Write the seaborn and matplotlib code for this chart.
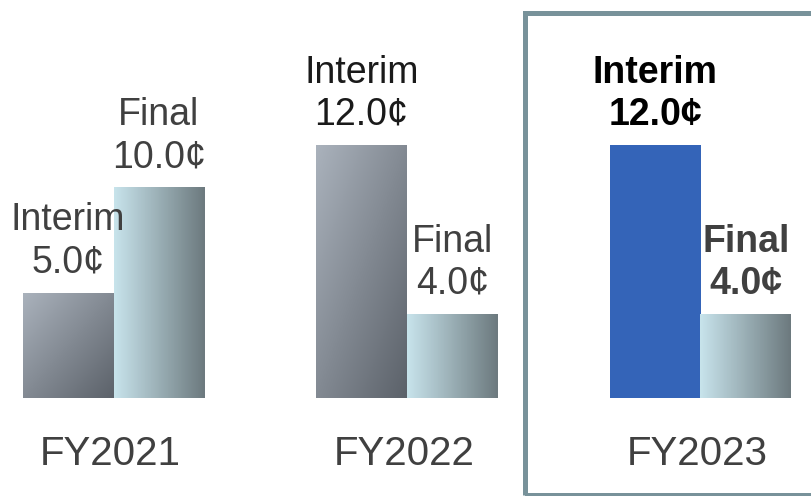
import pandas as pd
import numpy as np
import seaborn as sns
import matplotlib.pyplot as plt
from matplotlib.colors import LinearSegmentedColormap
from matplotlib.patches import Rectangle

# datos
years = ['FY2021', 'FY2022', 'FY2023']
interim = [5.0, 12.0, 12.0]
final = [10.0, 4.0, 4.0]
series = ['Interim', 'Final']

df = pd.DataFrame({
    'year': years * 2,
    'tipo': ['Interim'] * 3 + ['Final'] * 3,
    'valor': interim + final,
})

sns.set_theme(style='white')
plt.rcParams['font.family'] = ['Liberation Sans', 'DejaVu Sans']

fig = plt.figure(figsize=(8.11, 4.96), dpi=100)
ax = fig.add_axes([0, 0, 1, 1])

sns.barplot(data=df, x='year', y='valor', hue='tipo', hue_order=series,
            order=years, width=0.62, palette=['#3464b8', '#9fb9c0'],
            saturation=1, linewidth=0, legend=False, ax=ax)

# escala: 293.5 px por grupo, 21.1 px por unidad
ax.set_xlim(-113.5 / 293.5, (811 - 113.5) / 293.5)
ax.set_ylim(-98 / 21.1, 398 / 21.1)
ax.axis('off')

cmap_int = LinearSegmentedColormap.from_list('int', ['#aab2bc', '#5c626a'])
cmap_fin = LinearSegmentedColormap.from_list('fin', ['#c7e3eb', '#6d7a7f'])

xx, yy = np.meshgrid(np.linspace(0, 1, 64), np.linspace(0, 1, 64))

for k, cont in enumerate(ax.containers):
    for i, bar in enumerate(cont):
        if k == 0 and i == 2:
            continue  # FY2023 interim queda azul sólido
        x0, y0 = bar.get_x(), bar.get_y()
        w, h = bar.get_width(), bar.get_height()
        if k == 0:
            grad = (xx + yy) / 2
            cmap = cmap_int
        else:
            grad = xx
            cmap = cmap_fin
        im = ax.imshow(grad, cmap=cmap, extent=[x0, x0 + w, y0, y0 + h],
                       origin='upper', aspect='auto', zorder=bar.get_zorder())
        im.set_clip_path(bar)
        bar.set_facecolor('none')

ax.set_xlim(-113.5 / 293.5, (811 - 113.5) / 293.5)
ax.set_ylim(-98 / 21.1, 398 / 21.1)

# etiquetas
colores = [['#404040', '#1a1a1a', '#000000'], ['#404040', '#404040', '#404040']]
for k, cont in enumerate(ax.containers):
    for i, bar in enumerate(cont):
        cx = bar.get_x() + bar.get_width() / 2
        top = bar.get_height()
        weight = 'bold' if i == 2 else 'normal'
        c = colores[k][i]
        ax.annotate(f'{top:.1f}¢', (cx, top), xytext=(0, 20),
                    textcoords='offset pixels', ha='center', va='baseline',
                    fontsize=27, color=c, fontweight=weight)
        ax.annotate(series[k], (cx, top), xytext=(0, 62),
                    textcoords='offset pixels', ha='center', va='baseline',
                    fontsize=27, color=c, fontweight=weight)

for i, y in enumerate(years):
    ax.annotate(y, (i, 0), xytext=(-3, -67), textcoords='offset pixels',
                ha='center', va='baseline', fontsize=29, color='#404040')

# recuadro FY2023
fig.patches.append(Rectangle((524.5 / 811, 1.5 / 496), 300 / 811, 482 / 496,
                             transform=fig.transFigure, fill=False,
                             edgecolor='#78929a', linewidth=3.6))

plt.savefig('out.png', dpi=100)
